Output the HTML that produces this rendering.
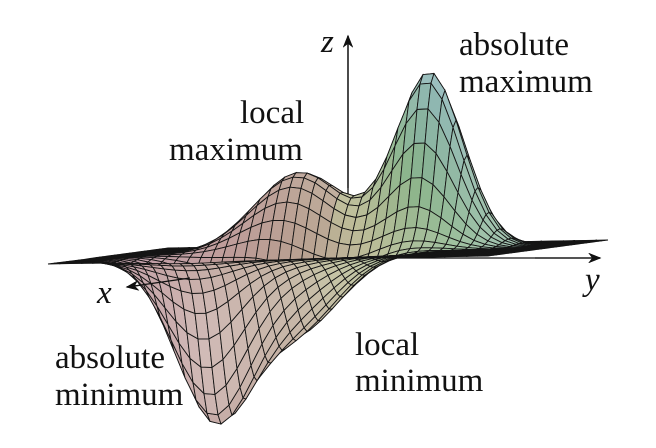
<!DOCTYPE html>
<html><head><meta charset="utf-8"><style>
body{margin:0;background:#fff}
svg{display:block}
text{font-family:"Liberation Serif",serif;font-size:33px;fill:#111}
</style></head><body>
<svg id="chart" width="656" height="448" viewBox="0 0 656 448">
<defs><marker id="ah" markerWidth="10" markerHeight="8" refX="9" refY="4" orient="auto"><path d="M0,0 L10,4 L0,8 L3,4 Z" fill="#111"/></marker></defs>
<g id="axes-back">
<line x1="348" y1="258" x2="348" y2="36" stroke="#111" stroke-width="1.3" marker-end="url(#ah)"/>
<line x1="348" y1="258" x2="600" y2="258" stroke="#111" stroke-width="1.3" marker-end="url(#ah)"/>
<line x1="348" y1="258" x2="127" y2="287" stroke="#111" stroke-width="1.3" marker-end="url(#ah)"/>
</g>
<g id="mesh"></g>
<g id="axes-front">
<line x1="348" y1="188" x2="348" y2="36" stroke="#111" stroke-width="1.3" marker-end="url(#ah)"/>
<line x1="535" y1="258" x2="600" y2="258" stroke="#111" stroke-width="1.3" marker-end="url(#ah)"/>
<line x1="190" y1="278" x2="127" y2="287" stroke="#111" stroke-width="1.3" marker-end="url(#ah)"/>
</g>
<text x="321" y="52" font-style="italic" font-size="28">z</text>
<text x="585" y="290" font-style="italic" font-size="28">y</text>
<text x="97" y="303" font-style="italic" font-size="28">x</text>
<text x="459" y="55">absolute</text>
<text x="459" y="92">maximum</text>
<text x="240" y="123">local</text>
<text x="169" y="160">maximum</text>
<text x="55" y="368">absolute</text>
<text x="55" y="405">minimum</text>
<text x="355" y="355">local</text>
<text x="355" y="391">minimum</text>
</svg>
<script>
const peakU=[-0.3,-0.2,0.5,0.3];
const peakV=[0.38,-0.18,-0.38,-0.045];
const peakHeight=[1.0,0.46,-0.9,-0.42];
const peakWidth=[0.15,0.2,0.17,0.19];
const N=40;
function f(u,v){let z=0;for(let i=0;i<peakU.length;i++){const d=((u-peakU[i])**2+(v-peakV[i])**2)/(2*peakWidth[i]**2);z+=peakHeight[i]*Math.exp(-d);}return z;}
function P(u,v){const z=f(u,v);return [328+220*v-60*u,252+8*u-4*v-175*z];}
const g=document.getElementById('mesh');
const quads=[];
for(let i=0;i<N;i++)for(let j=0;j<N;j++){
 const u0=-1+2*i/N,u1=-1+2*(i+1)/N,v0=-1+2*j/N,v1=-1+2*(j+1)/N;
 quads.push({u:(u0+u1)/2,v:(v0+v1)/2,z:f((u0+u1)/2,(v0+v1)/2),pts:[P(u0,v0),P(u0,v1),P(u1,v1),P(u1,v0)],du:f(u1,(v0+v1)/2)-f(u0,(v0+v1)/2)});
}
quads.sort((a,b)=>a.u-b.u);
for(const q of quads){
 const t=(q.v+1)/2;
 let hue=t<0.5?(330+t*2*60)%360:30+(t-0.5)*2*150;
 if(t>=0.5&&q.z>0) hue+=q.z*90;
 let L=70+Math.max(-14,Math.min(8,q.du*40));
 const p=document.createElementNS('http://www.w3.org/2000/svg','polygon');
 p.setAttribute('points',q.pts.map(a=>a[0].toFixed(1)+','+a[1].toFixed(1)).join(' '));
 p.setAttribute('fill','hsl('+hue.toFixed(0)+',22%,'+L.toFixed(0)+'%)');
 p.setAttribute('stroke','#151515');
 p.setAttribute('stroke-width','0.9');
 
 
 g.appendChild(p);
}
</script>
</body></html>
